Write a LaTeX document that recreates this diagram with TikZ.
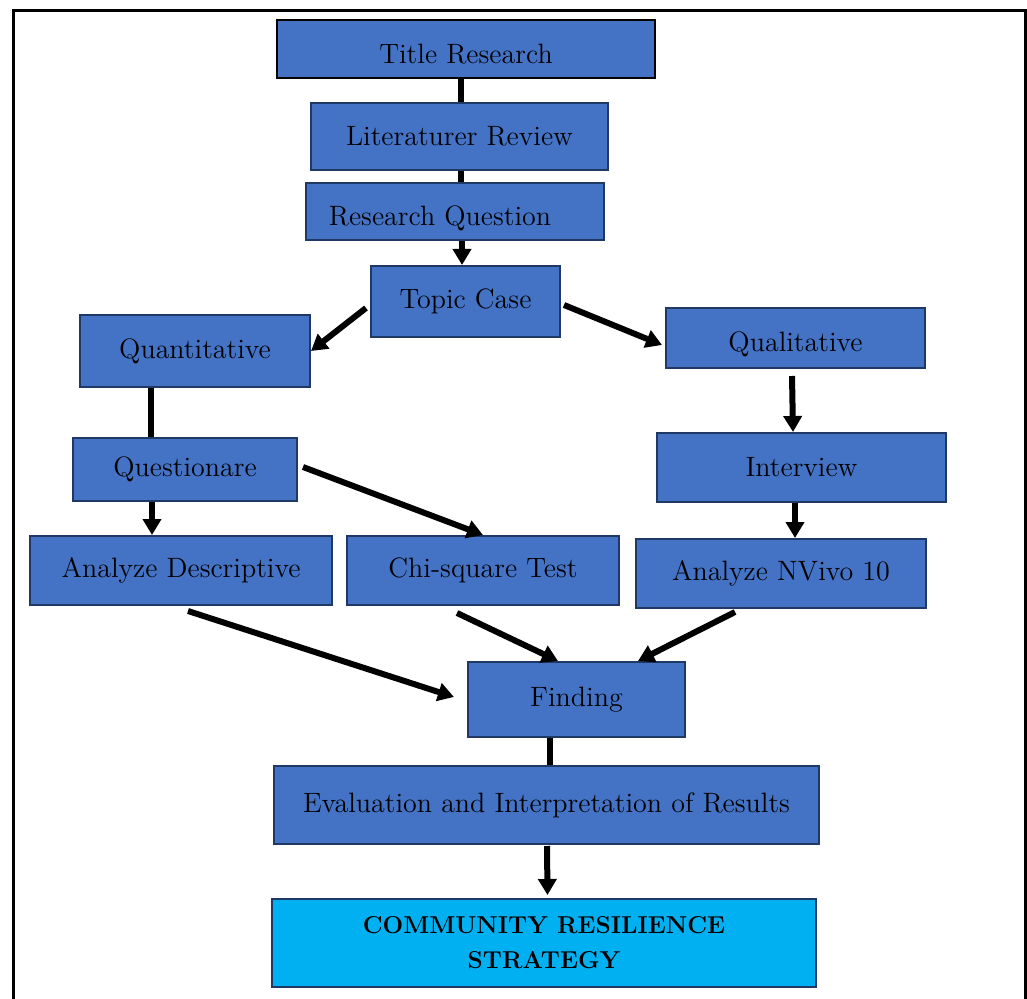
\documentclass[tikz,border=0pt]{standalone}
\usepackage{fontspec}
\usepackage{tikz}
\usetikzlibrary{arrows.meta}
\usetikzlibrary{positioning}
\definecolor{boxblue}{HTML}{4472C4}
\definecolor{boxedge}{HTML}{1F3864}
\definecolor{resultcyan}{HTML}{00B0F0}
\newcommand{\lowered}[2]{\raisebox{-#1}[\height][\depth]{#2}}

\begin{document}
\begin{tikzpicture}
	[x=0.5pt,y=-0.5pt,
	 font=\fontsize{14}{16}\selectfont,
	 stepbox/.style={rectangle,draw=boxedge,fill=boxblue,line width=1pt,inner sep=0pt},
	 link/.style={line width=3pt},
	 flow/.style={line width=3pt,-{Triangle[length=8pt,width=9pt]}}]

	\useasboundingbox (0,0) rectangle (1027,999);
	\draw[line width=1.5pt] (13,999) -- (13,11) -- (1025,11) -- (1025,999);

	\node[stepbox,draw=black,minimum width=189pt,minimum height=29pt] (TitleResearch) at (466,49) {\lowered{2.5pt}{Title Research}};
	\node[stepbox,minimum width=148.5pt,minimum height=33.5pt] (LiteratureReview) at (459.5,136.5) {Literaturer Review};
	\node[stepbox,minimum width=149pt,minimum height=28.5pt] (ResearchQuestion) at (455,211.5) {\lowered{3.5pt}{Research Question}\hspace*{15pt}};
	\draw[link] ([shift={(-5,0)}]TitleResearch.south) -- ([shift={(-5,0)}]TitleResearch.south |- LiteratureReview.north);
	\draw[link] ([shift={(1.5,0)}]LiteratureReview.south) -- ([shift={(1.5,0)}]LiteratureReview.south |- ResearchQuestion.north);

	\node[stepbox,minimum width=94.5pt,minimum height=35.5pt] (TopicCase) at (465.5,301.5) {Topic Case};
	\draw[flow] ([shift={(7,0)}]ResearchQuestion.south) -- ([shift={(7,0)}]ResearchQuestion.south |- TopicCase.north);

	\node[stepbox,minimum width=115pt,minimum height=36pt] (Quantitative) at (195,351) {Quantitative};
	\node[stepbox,minimum width=129.5pt,minimum height=30pt] (Qualitative) at (795.5,338) {\lowered{3pt}{Qualitative}};
	\draw[flow] ([shift={(-4,6.5)}]TopicCase.west) -- (Quantitative.east);
	\draw[flow] ([shift={(3,3.5)}]TopicCase.east) -- ([shift={(-3,7)}]Qualitative.west);

	\node[stepbox,minimum width=112pt,minimum height=31.5pt] (Questionare) at (185,469.5) {Questionare};
	\node[stepbox,minimum width=144.5pt,minimum height=34.5pt] (Interview) at (801.5,467.5) {Interview};
	\draw[link] ([shift={(-44,0)}]Quantitative.south) -- ([shift={(-44,0)}]Quantitative.south |- Questionare.north);
	\draw[flow] ([shift={(-3.5,7)}]Qualitative.south) -- ([shift={(-8.5,0)}]Interview.north);

	\node[stepbox,minimum width=151pt,minimum height=34.5pt] (AnalyzeDescriptive) at (181,570.5) {Analyze Descriptive};
	\node[stepbox,minimum width=136pt,minimum height=34.5pt] (ChiSquareTest) at (483,570.5) {Chi-square Test};
	\node[stepbox,minimum width=145pt,minimum height=34.5pt] (AnalyzeNVivo) at (781,573.5) {Analyze NVivo 10};
	\draw[flow] ([shift={(-33,0)}]Questionare.south) -- ([shift={(-33,0)}]Questionare.south |- AnalyzeDescriptive.north);
	\draw[flow] ([shift={(5,-2.5)}]Questionare.east) -- (ChiSquareTest.north);
	\draw[flow] ([shift={(-6.5,0)}]Interview.south) -- ([shift={(-6.5,0)}]Interview.south |- AnalyzeNVivo.north);

	\node[stepbox,minimum width=108.5pt,minimum height=37.5pt] (Finding) at (576.5,699.5) {Finding};
	\draw[flow] ([shift={(7,5)}]AnalyzeDescriptive.south) -- ([shift={(-13,-2.5)}]Finding.west);
	\draw[flow] ([shift={(-26,7)}]ChiSquareTest.south) -- ([shift={(-18.5,0)}]Finding.north);
	\draw[flow] ([shift={(-46,3)}]AnalyzeNVivo.south) -- ([shift={(61.5,0)}]Finding.north);

	\node[stepbox,minimum width=272.5pt,minimum height=39pt] (Evaluation) at (546.5,805) {Evaluation and Interpretation of Results};
	\draw[link] ([shift={(-26.5,0)}]Finding.south) -- ([shift={(-26.5,0)}]Finding.south |- Evaluation.north);

	\node[stepbox,fill=resultcyan,minimum width=272pt,minimum height=44pt,align=center,font=\fontsize{12.2}{17.5}\selectfont\bfseries] (Community) at (544,943) {COMMUNITY RESILIENCE\\STRATEGY};
	\draw[flow] ([shift={(0.5,1)}]Evaluation.south) -- ([shift={(3.5,-3)}]Community.north);
\end{tikzpicture}
\end{document}
